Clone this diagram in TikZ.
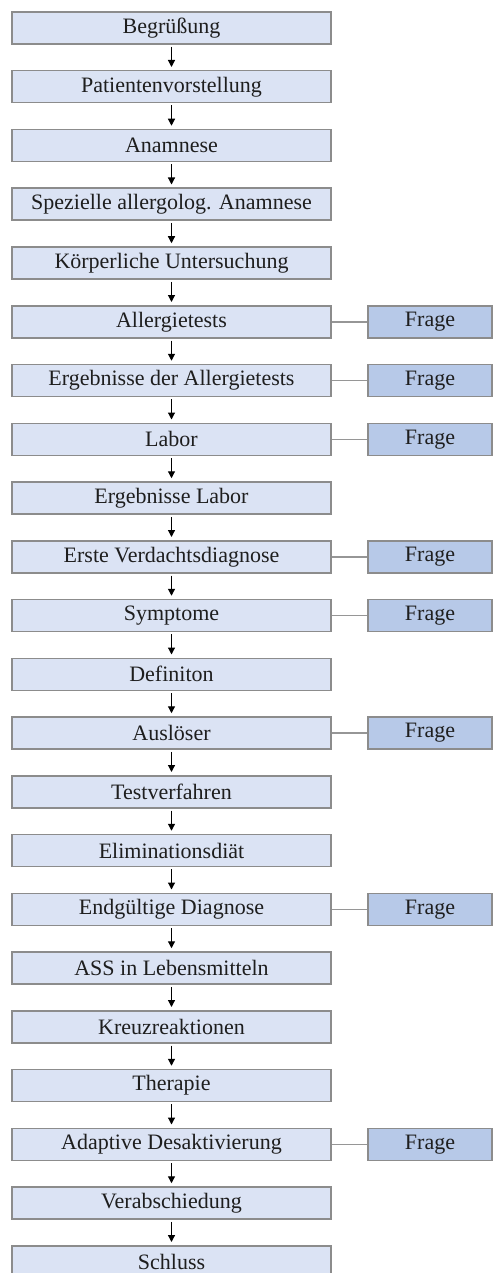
\documentclass[tikz,border=0pt]{standalone}
\usepackage{fontspec}
\setmainfont{Liberation Serif}
\usetikzlibrary{arrows.meta}
\definecolor{mainfill}{RGB}{219,227,244}
\definecolor{fragefill}{RGB}{183,201,232}
\definecolor{boxborder}{RGB}{140,140,140}
\definecolor{linkgray}{RGB}{150,150,150}
\definecolor{txt}{RGB}{30,30,30}
\begin{document}
\begin{tikzpicture}[x=1pt,y=-1pt,
  mainbox/.style={draw=boxborder,line width=1.5pt,fill=mainfill,minimum width=319pt,minimum height=32pt,inner sep=0pt,text=txt,font=\fontsize{22}{24}\selectfont},
  fragebox/.style={draw=boxborder,line width=1.5pt,fill=fragefill,minimum width=124pt,minimum height=32pt,inner sep=0pt,text=txt,font=\fontsize{22}{24}\selectfont},
  arr/.style={line width=1.2pt,black,-{Triangle[length=7pt,width=7pt]},shorten <=2pt,shorten >=3pt},
  link/.style={line width=1.5pt,linkgray}]
\clip (0,0) rectangle (493,1273);
\fill[white] (0,0) rectangle (493,1273);
\foreach \i/\t in {0/Begrüßung,1/Patientenvorstellung,2/Anamnese,3/Spezielle allergolog. Anamnese,4/Körperliche Untersuchung,5/Allergietests,6/Ergebnisse der Allergietests,7/Labor,8/Ergebnisse Labor,9/Erste Verdachtsdiagnose,10/Symptome,11/Definiton,12/Auslöser,13/Testverfahren,14/Eliminationsdiät,15/Endgültige Diagnose,16/ASS in Lebensmitteln,17/Kreuzreaktionen,18/Therapie,19/Adaptive Desaktivierung,20/Verabschiedung,21/Schluss}{
  \node[mainbox] (b\i) at (171.5,{28+58.75*\i}) {\t};
}
\foreach \i in {0,...,20}{
  \pgfmathtruncatemacro{\j}{\i+1}
  \draw[arr] (b\i.south) -- (b\j.north);
}
\foreach \i in {5,6,7,9,10,12,15,19}{
  \node[fragebox] (f\i) at (430,{28+58.75*\i}) {Frage};
  \draw[link] (b\i.east) -- (f\i.west);
}
\end{tikzpicture}
\end{document}
